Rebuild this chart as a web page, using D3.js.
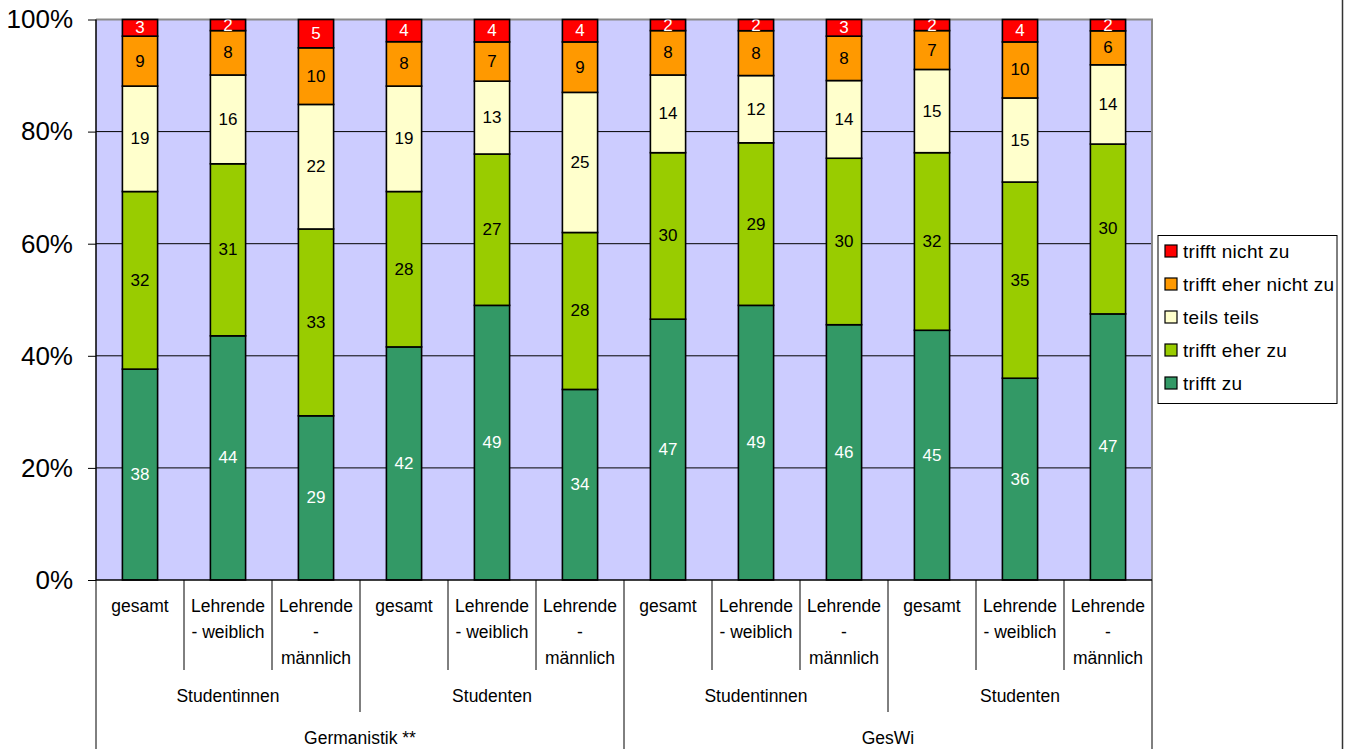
<!DOCTYPE html>
<html>
<head>
<meta charset="utf-8">
<script src="https://cdn.jsdelivr.net/npm/d3@7"></script>
<style>
  html, body { margin: 0; padding: 0; background: #fff; }
  svg { display: block; font-family: "Liberation Sans", Arial, sans-serif; }
</style>
</head>
<body>
<svg id="chart" width="1350" height="749"></svg>
<script>
// Response categories, bottom to top of each stacked bar
const seriesNames = ["trifft zu", "trifft eher zu", "teils teils", "trifft eher nicht zu", "trifft nicht zu"];
const seriesColors = ["#339966", "#99CC00", "#FFFFCC", "#FF9900", "#FF0000"];
const labelColors = ["#ffffff", "#000000", "#000000", "#000000", "#ffffff"];

// Bottom-level categories (one bar each), line-wrapped as on the axis
const categoryLines = [
  ["gesamt"], ["Lehrende", "- weiblich"], ["Lehrende", "-", "männlich"],
  ["gesamt"], ["Lehrende", "- weiblich"], ["Lehrende", "-", "männlich"],
  ["gesamt"], ["Lehrende", "- weiblich"], ["Lehrende", "-", "männlich"],
  ["gesamt"], ["Lehrende", "- weiblich"], ["Lehrende", "-", "männlich"]
];
const groupLabels = ["Studentinnen", "Studenten", "Studentinnen", "Studenten"];
const subjectLabels = ["Germanistik **", "GesWi"];

// Percent values per response category
const trifftZu        = [38, 44, 29, 42, 49, 34, 47, 49, 46, 45, 36, 47];
const trifftEherZu    = [32, 31, 33, 28, 27, 28, 30, 29, 30, 32, 35, 30];
const teilsTeils      = [19, 16, 22, 19, 13, 25, 14, 12, 14, 15, 15, 14];
const trifftEherNicht = [ 9,  8, 10,  8,  7,  9,  8,  8,  8,  7, 10,  6];
const trifftNicht     = [ 3,  2,  5,  4,  4,  4,  2,  2,  3,  2,  4,  2];

const yTicks = [0, 0.2, 0.4, 0.6, 0.8, 1];

const seriesValues = [trifftZu, trifftEherZu, teilsTeils, trifftEherNicht, trifftNicht];
const rows = categoryLines.map((c, i) => {
  const r = { idx: i };
  seriesNames.forEach((s, k) => { r[s] = seriesValues[k][i]; });
  return r;
});

const svg = d3.select("#chart");
const plot = { left: 96, right: 1152, top: 19.5, bottom: 580 };

const xCell = d3.scaleBand().domain(d3.range(categoryLines.length)).range([plot.left, plot.right]).padding(0);
const barFrac = 0.4;
const y = d3.scaleLinear().domain([0, 1]).range([plot.bottom, plot.top]);

// Plot background
svg.append("rect")
  .attr("x", plot.left).attr("y", plot.top)
  .attr("width", plot.right - plot.left).attr("height", plot.bottom - plot.top)
  .attr("fill", "#CCCCFF");

// Gridlines
svg.append("g")
  .selectAll("line").data(yTicks.filter(t => t > 0 && t < 1)).join("line")
  .attr("x1", plot.left).attr("x2", plot.right)
  .attr("y1", d => y(d)).attr("y2", d => y(d))
  .attr("stroke", "#000").attr("stroke-width", 1);

// Plot border (top and right)
svg.append("path")
  .attr("d", `M${plot.left},${plot.top}H${plot.right}V${plot.bottom}`)
  .attr("fill", "none").attr("stroke", "#8a8a8a").attr("stroke-width", 2);

// Stacked, normalised to 100%
const stack = d3.stack().keys(seriesNames).offset(d3.stackOffsetExpand);
const layers = stack(rows);

svg.append("clipPath").attr("id", "plotclip")
  .append("rect").attr("x", plot.left).attr("y", plot.top)
  .attr("width", plot.right - plot.left).attr("height", plot.bottom - plot.top);

const bw = xCell.bandwidth() * barFrac;
const bx = i => xCell(i) + (xCell.bandwidth() - bw) / 2;

const layerG = svg.append("g").selectAll("g").data(layers).join("g")
  .attr("fill", (d, k) => seriesColors[k]);

layerG.selectAll("rect").data(d => d).join("rect")
  .attr("x", d => bx(d.data.idx))
  .attr("y", d => y(d[1]))
  .attr("width", bw)
  .attr("height", d => y(d[0]) - y(d[1]))
  .attr("stroke", "#000").attr("stroke-width", 1.6);

// Value labels
const labelG = svg.append("g").attr("clip-path", "url(#plotclip)");
layers.forEach((layer, k) => {
  labelG.append("g").selectAll("text").data(layer).join("text")
    .attr("x", d => bx(d.data.idx) + bw / 2)
    .attr("y", d => (y(d[0]) + y(d[1])) / 2)
    .attr("text-anchor", "middle")
    .attr("dominant-baseline", "central")
    .attr("font-size", 17)
    .attr("fill", labelColors[k])
    .text(d => d.data[layer.key]);
});

// Y axis
const yAxis = svg.append("g")
  .attr("transform", `translate(${plot.left},0)`)
  .call(d3.axisLeft(y).tickValues(yTicks).tickFormat(d3.format(".0%")).tickSize(8).tickPadding(15));
yAxis.select(".domain").attr("stroke", "#000").attr("stroke-width", 1.5).attr("d", `M0,${plot.top}V${plot.bottom}`);
yAxis.selectAll(".tick line").attr("stroke", "#000");
yAxis.selectAll(".tick text").attr("font-size", 26).attr("font-family", "Liberation Sans, Arial, sans-serif").attr("fill", "#000");

// Category axis
const axisG = svg.append("g");
axisG.append("line")
  .attr("x1", plot.left).attr("x2", plot.right)
  .attr("y1", plot.bottom).attr("y2", plot.bottom)
  .attr("stroke", "#000").attr("stroke-width", 1.5);

// Separators: category boundaries, group boundaries, subject boundaries
const nCat = categoryLines.length;
const boundaries = d3.range(nCat + 1);
axisG.selectAll("line.sep").data(boundaries).join("line")
  .attr("class", "sep")
  .attr("x1", i => i < nCat ? xCell(i) : plot.right)
  .attr("x2", i => i < nCat ? xCell(i) : plot.right)
  .attr("y1", plot.bottom)
  .attr("y2", i => (i % 6 === 0) ? 749 : (i % 3 === 0 ? 712 : 670))
  .attr("stroke", "#000").attr("stroke-width", 1);

const lineY = [606, 632, 658];
categoryLines.forEach((lines, i) => {
  lines.forEach((t, j) => {
    axisG.append("text")
      .attr("x", xCell(i) + xCell.bandwidth() / 2)
      .attr("y", lineY[j])
      .attr("text-anchor", "middle").attr("dominant-baseline", "central")
      .attr("font-size", 17.5).attr("fill", "#000")
      .text(t);
  });
});
groupLabels.forEach((t, g) => {
  axisG.append("text")
    .attr("x", (xCell(g * 3) + (g * 3 + 3 < nCat ? xCell(g * 3 + 3) : plot.right)) / 2)
    .attr("y", 696)
    .attr("text-anchor", "middle").attr("dominant-baseline", "central")
    .attr("font-size", 17.5).attr("fill", "#000")
    .text(t);
});
subjectLabels.forEach((t, s) => {
  axisG.append("text")
    .attr("x", (xCell(s * 6) + (s * 6 + 6 < nCat ? xCell(s * 6 + 6) : plot.right)) / 2)
    .attr("y", 738)
    .attr("text-anchor", "middle").attr("dominant-baseline", "central")
    .attr("font-size", 17.5).attr("fill", "#000")
    .text(t);
});

// Legend (top entry = top of stack)
const legend = svg.append("g");
legend.append("rect")
  .attr("x", 1158).attr("y", 235.5).attr("width", 179).attr("height", 168)
  .attr("fill", "#fff").attr("stroke", "#000").attr("stroke-width", 1);
const legendOrder = d3.range(seriesNames.length).reverse();
const legendItems = legend.selectAll("g.item").data(legendOrder).join("g")
  .attr("class", "item")
  .attr("transform", (k, j) => `translate(1165,${251 + j * 33})`);
legendItems.append("rect")
  .attr("x", 0).attr("y", -6).attr("width", 12).attr("height", 12)
  .attr("fill", k => seriesColors[k]).attr("stroke", "#000").attr("stroke-width", 1.2);
legendItems.append("text")
  .attr("x", 18).attr("y", 0)
  .attr("dominant-baseline", "central")
  .attr("font-size", 19).attr("letter-spacing", 0.3).attr("fill", "#000")
  .text(k => seriesNames[k]);

// Chart frame edge
svg.append("line")
  .attr("x1", 1342.5).attr("x2", 1342.5).attr("y1", 0).attr("y2", 749)
  .attr("stroke", "#333").attr("stroke-width", 1.5);
</script>
</body>
</html>
